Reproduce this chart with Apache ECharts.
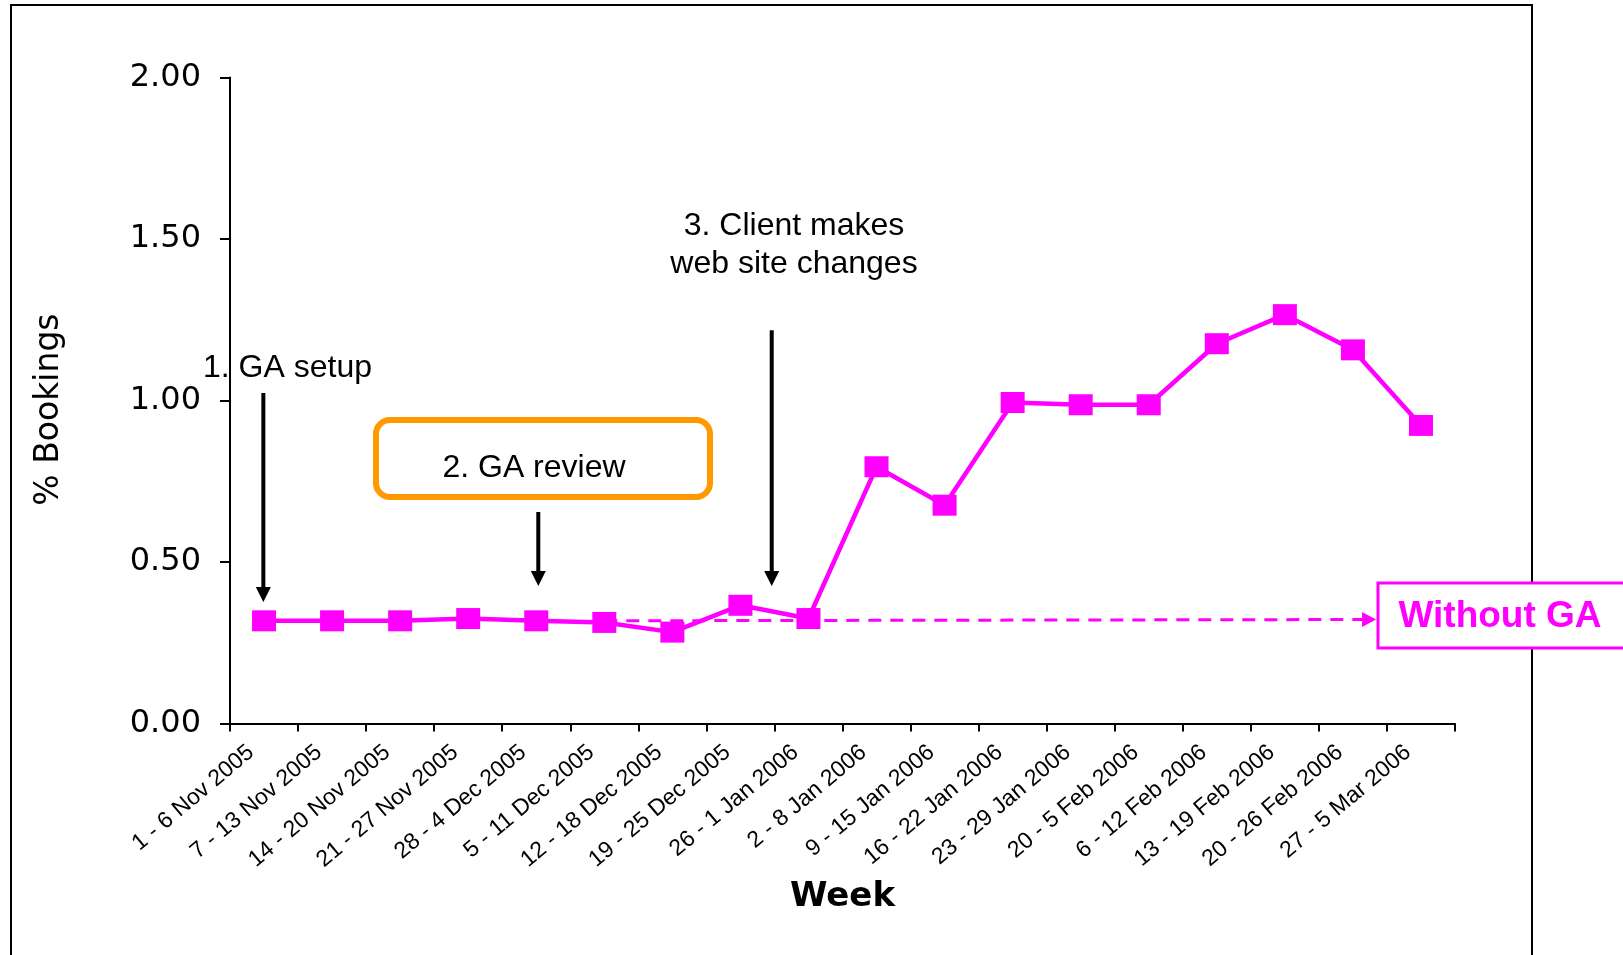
<!DOCTYPE html>
<html>
<head>
<meta charset="utf-8">
<title>% Bookings by week</title>
<script src="https://cdn.jsdelivr.net/npm/echarts@6/dist/echarts.min.js"></script>
<style>
  html, body { margin: 0; padding: 0; background: #ffffff; }
  #chart { width: 1623px; height: 955px; }
</style>
</head>
<body>
<div id="chart"></div>
<script>
// Weekly categories on the x axis
const weeks = [
  '1 - 6 Nov 2005', '7 - 13 Nov 2005', '14 - 20 Nov 2005', '21 - 27 Nov 2005',
  '28 - 4 Dec 2005', '5 - 11 Dec 2005', '12 - 18 Dec 2005', '19 - 25 Dec 2005',
  '26 - 1 Jan 2006', '2 - 8 Jan 2006', '9 - 15 Jan 2006', '16 - 22 Jan 2006',
  '23 - 29 Jan 2006', '20 - 5 Feb 2006', '6 - 12 Feb 2006', '13 - 19 Feb 2006',
  '20 - 26 Feb 2006', '27 - 5 Mar 2006'
];

// % of visits that ended in a booking, per week
const bookings = [
  0.318, 0.318, 0.318, 0.325, 0.318, 0.313, 0.283, 0.366, 0.325,
  0.795, 0.676, 0.994, 0.987, 0.987, 1.176, 1.266, 1.157, 0.923
];

// y axis scale
const yMin = 0;
const yMax = 2;
const yStep = 0.5;

// Projected level without GA: [xStart, yStart, xEnd, yEnd] in week units
const withoutGA = [[5.5, 0.318, 16.84, 0.322]];

// Event arrows: [x in week units, top value, tip value]
const eventArrows = [
  [0.49, 1.023, 0.376],
  [4.53, 0.655, 0.426],
  [7.96, 1.218, 0.426]
];

const MAGENTA = '#FF00FF';
const ORANGE = '#FF9900';
const SANS = '"Liberation Sans", Arial, sans-serif';
const WIDE = '"DejaVu Sans", Verdana, sans-serif';

const chart = echarts.init(document.getElementById('chart'), null, { renderer: 'canvas' });

function drawArrow(params, api) {
  const top = api.coord([api.value(0), api.value(1)]);
  const tip = api.coord([api.value(0), api.value(2)]);
  const head = 15, half = 7.5;
  return {
    type: 'group',
    children: [
      { type: 'line',
        shape: { x1: top[0], y1: top[1], x2: tip[0], y2: tip[1] - head + 1 },
        style: { stroke: '#000', lineWidth: 4 } },
      { type: 'polygon',
        shape: { points: [[tip[0] - half, tip[1] - head], [tip[0] + half, tip[1] - head], [tip[0], tip[1]]] },
        style: { fill: '#000' } }
    ]
  };
}

function drawBaseline(params, api) {
  const a = api.coord([api.value(0), api.value(1)]);
  const b = api.coord([api.value(2), api.value(3)]);
  const head = 14, half = 7.5;
  return {
    type: 'group',
    children: [
      { type: 'line',
        shape: { x1: a[0], y1: a[1], x2: b[0] - head, y2: b[1] },
        style: { stroke: MAGENTA, lineWidth: 3, lineDash: [13, 9] } },
      { type: 'polygon',
        shape: { points: [[b[0] - head, b[1] - half], [b[0] - head, b[1] + half], [b[0], b[1]]] },
        style: { fill: MAGENTA } }
    ]
  };
}

const option = {
  backgroundColor: '#ffffff',
  animation: false,
  grid: { left: 230, right: 168, top: 77.6, bottom: 231.5, containLabel: false },
  xAxis: [
    {
      type: 'category',
      data: weeks,
      boundaryGap: true,
      name: 'Week',
      nameLocation: 'middle',
      nameGap: 157,
      nameTextStyle: { fontFamily: WIDE, fontWeight: 'bold', fontSize: 34, color: '#000', verticalAlign: 'top' },
      axisLine: { lineStyle: { color: '#000', width: 2 } },
      axisTick: { show: true, alignWithLabel: false, length: 8, lineStyle: { color: '#000', width: 2 } },
      axisLabel: { rotate: 40, interval: 0, margin: 15, padding: [0, 17, 0, 0],
        fontFamily: SANS, fontSize: 23, color: '#000' },
      splitLine: { show: false }
    },
    {
      type: 'value',
      min: 0,
      max: weeks.length,
      show: false
    }
  ],
  yAxis: {
    type: 'value',
    min: yMin,
    max: yMax,
    interval: yStep,
    name: '% Bookings',
    nameLocation: 'middle',
    nameGap: 164,
    nameRotate: 90,
    nameTextStyle: { fontFamily: WIDE, fontSize: 33, color: '#000', padding: [0, 18, 0, 0] },
    axisLine: { show: true, lineStyle: { color: '#000', width: 2 } },
    axisTick: { show: true, inside: false, length: 10, lineStyle: { color: '#000', width: 2 } },
    axisLabel: { margin: 29, padding: [11, 0, 0, 0], fontFamily: WIDE, fontSize: 32, color: '#000',
      formatter: v => v.toFixed(2) },
    splitLine: { show: false }
  },
  series: [
    {
      type: 'custom',
      name: 'Without GA',
      xAxisIndex: 1,
      renderItem: drawBaseline,
      encode: { x: [0, 2], y: [1, 3] },
      data: withoutGA,
      z: 1,
      silent: true
    },
    {
      type: 'line',
      name: '% Bookings',
      data: bookings,
      symbol: 'rect',
      symbolSize: [24, 21],
      lineStyle: { color: MAGENTA, width: 4.5 },
      itemStyle: { color: MAGENTA },
      z: 3
    },
    {
      type: 'custom',
      name: 'Events',
      xAxisIndex: 1,
      renderItem: drawArrow,
      encode: { x: 0, y: [1, 2] },
      data: eventArrows,
      z: 4,
      silent: true
    }
  ],
  graphic: [
    // outer frame
    { type: 'rect', z: 0, silent: true,
      shape: { x: 11, y: 5, width: 1521, height: 1000 },
      style: { fill: null, stroke: '#000', lineWidth: 2 } },
    // 1. GA setup
    { type: 'text', z: 10, x: 203, y: 368,
      style: { text: '1. GA setup', font: '32px ' + SANS, fill: '#000', verticalAlign: 'middle' } },
    // 2. GA review box
    { type: 'rect', z: 10,
      shape: { x: 376, y: 420, width: 334, height: 77, r: 14 },
      style: { fill: '#fff', stroke: ORANGE, lineWidth: 6 } },
    { type: 'text', z: 11, x: 534, y: 468,
      style: { text: '2. GA review', font: '32px ' + SANS, fill: '#000', align: 'center', verticalAlign: 'middle' } },
    // 3. Client makes web site changes
    { type: 'text', z: 10, x: 794, y: 245,
      style: { text: '3. Client makes\nweb site changes', font: '32px ' + SANS, fill: '#000',
        align: 'center', verticalAlign: 'middle', lineHeight: 38 } },
    // Without GA label box
    { type: 'rect', z: 10,
      shape: { x: 1378, y: 583, width: 260, height: 65 },
      style: { fill: '#fff', stroke: MAGENTA, lineWidth: 3 } },
    { type: 'text', z: 11, x: 1500, y: 617,
      style: { text: 'Without GA', font: 'bold 37px ' + SANS, fill: MAGENTA, align: 'center', verticalAlign: 'middle' } }
  ]
};

chart.setOption(option);
</script>
</body>
</html>
